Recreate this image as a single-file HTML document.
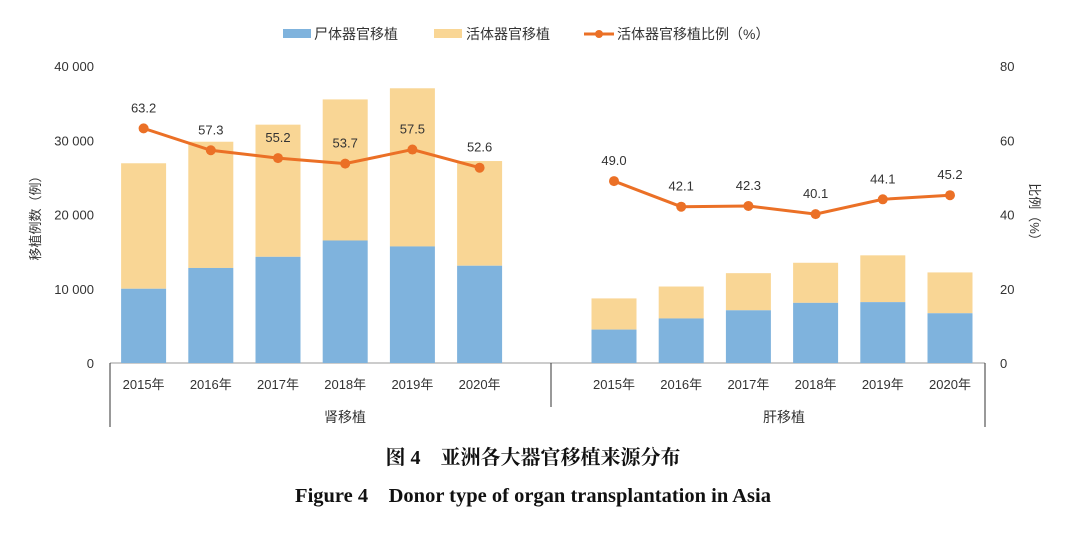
<!DOCTYPE html>
<html><head><meta charset="utf-8"><style>
body{margin:0;background:#fff;}
text{font-family:"Liberation Sans","Noto Sans CJK SC",sans-serif;}
text.serif{font-family:"Liberation Serif","Noto Serif CJK SC",serif;}
</style></head><body>
<svg id="c" width="1080" height="536" xmlns="http://www.w3.org/2000/svg"></svg>
<script>
const categories=["2015年","2016年","2017年","2018年","2019年","2020年"];
const groups=["肾移植","肝移植"];
const kidneyDeceased=[10000,12800,14300,16500,15700,13100];
const kidneyTotal=[26900,29800,32100,35500,37000,27200];
const liverDeceased=[4500,6000,7100,8100,8200,6700];
const liverTotal=[8700,10300,12100,13500,14500,12200];
const kidneyRatio=[63.2,57.3,55.2,53.7,57.5,52.6];
const liverRatio=[49.0,42.1,42.3,40.1,44.1,45.2];
const leftTicks=[0,10000,20000,30000,40000];
const leftTickLabels=["0","10 000","20 000","30 000","40 000"];
const rightTicks=[0,20,40,60,80];

const NS="http://www.w3.org/2000/svg";
const svg=document.getElementById('c');
function mk(t,a,txt){const e=document.createElementNS(NS,t);for(const k in a)e.setAttribute(k,a[k]);if(txt!=null)e.textContent=txt;svg.appendChild(e);return e;}
const x0=110,slot=67.2,y0=363,yTop=66;
const yL=v=>y0-(v/40000)*(y0-yTop);
const yR=v=>y0-(v/80)*(y0-yTop);
const xC=(g,i)=>x0+slot*(g*7+i+0.5);
const bw=45;
const blue="#7fb3dd",yellow="#f9d695",orange="#eb7026";

let e=mk('line',{x1:x0,y1:y0,x2:985,y2:y0,stroke:"#999","stroke-width":1});

leftTicks.forEach((v,i)=>{e=mk('text',{x:94,y:yL(v)+5,"text-anchor":"end","font-size":13,fill:"#333"},leftTickLabels[i]);
});
rightTicks.forEach(v=>{e=mk('text',{x:1000,y:yR(v)+5,"font-size":13,fill:"#333"},String(v));
});
e=mk('text',{x:40,y:215,"font-size":13,fill:"#333","text-anchor":"middle",transform:"rotate(-90 40 215)"},"移植例数（例）");

e=mk('text',{x:1030,y:215,"font-size":13,fill:"#333","text-anchor":"middle",transform:"rotate(90 1030 215)"},"比例（%）");


const data=[[kidneyDeceased,kidneyTotal,kidneyRatio],[liverDeceased,liverTotal,liverRatio]];
data.forEach((d,g)=>{
  categories.forEach((c,i)=>{
    const x=xC(g,i);
    e=mk('rect',{x:x-bw/2,y:yL(d[1][i]),width:bw,height:yL(d[0][i])-yL(d[1][i]),fill:yellow});
    
    e=mk('rect',{x:x-bw/2,y:yL(d[0][i]),width:bw,height:y0-yL(d[0][i]),fill:blue});
    
    e=mk('text',{x:x,y:389,"text-anchor":"middle","font-size":13,fill:"#333"},c);
    
  });
  const pts=d[2].map((v,i)=>xC(g,i)+","+yR(v)).join(" ");
  e=mk('polyline',{points:pts,fill:"none",stroke:orange,"stroke-width":3});
  
  d[2].forEach((v,i)=>{
    e=mk('circle',{cx:xC(g,i),cy:yR(v),r:5,fill:orange});
    
    e=mk('text',{x:xC(g,i),y:yR(v)-16,"text-anchor":"middle","font-size":13,fill:"#333"},v.toFixed(1));
    
  });
  e=mk('text',{x:g==0?345:784,y:422,"text-anchor":"middle","font-size":14,fill:"#333"},groups[g]);
  
});
[[110,363,427],[551,363,407],[985,363,427]].forEach(a=>{e=mk('line',{x1:a[0],y1:a[1],x2:a[0],y2:a[2],stroke:"#333","stroke-width":1});
});

e=mk('rect',{x:283,y:29,width:28,height:9,fill:blue});
e=mk('text',{x:314,y:39,"font-size":14,fill:"#333"},"尸体器官移植");
e=mk('rect',{x:434,y:29,width:28,height:9,fill:yellow});
e=mk('text',{x:466,y:39,"font-size":14,fill:"#333"},"活体器官移植");
e=mk('line',{x1:584,y1:34,x2:614,y2:34,stroke:orange,"stroke-width":3});
e=mk('circle',{cx:599,cy:34,r:4,fill:orange});
e=mk('text',{x:617,y:39,"font-size":14,fill:"#333"},"活体器官移植比例（%）");

e=mk('text',{x:533,y:464,"text-anchor":"middle","font-size":20,"font-weight":"bold",fill:"#111","class":"serif"},"图 4　亚洲各大器官移植来源分布");

e=mk('text',{x:533,y:502,"text-anchor":"middle","font-size":20.5,"font-weight":"bold",fill:"#111","class":"serif"},"Figure 4　Donor type of organ transplantation in Asia");

</script>
</body></html>
